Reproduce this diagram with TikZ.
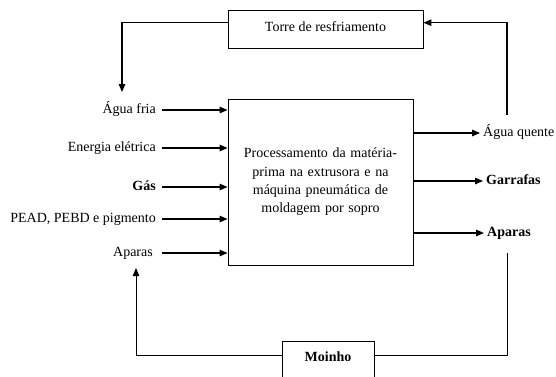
\documentclass[tikz,border=0pt]{standalone}
\usepackage{fontspec}
\setmainfont{Liberation Serif}
\usetikzlibrary{arrows.meta}

\tikzset{
  box/.style={draw, line width=0.9pt, inner sep=0pt},
  flow/.style={-{Triangle[length=8pt,width=6.5pt]}, line width=1.2pt},
  link/.style={line width=0.9pt},
  lbl/.style={inner sep=3pt, text height=10pt, text depth=3pt, font=\fontsize{14}{17}\selectfont}
}

\begin{document}
\begin{tikzpicture}[x=1pt,y=-1pt]
    \clip (0,0) rectangle (556,376);
    % blocos
    \node[box, minimum width=195pt, minimum height=38pt, text height=8pt, text depth=4pt, font=\fontsize{14}{17}\selectfont] (torre) at (325.5,29) {Torre de resfriamento};
    \node[box, minimum width=185pt, minimum height=166pt, text width=175pt, align=center, font=\fontsize{14}{18.3}\selectfont] (proc) at (320.5,182) {Processamento da matéria-\\prima na extrusora e na\\máquina pneumática de\\moldagem por sopro};
    \node[box, minimum width=92pt, minimum height=40pt, text height=5pt, text depth=5pt, font=\fontsize{14}{17}\selectfont\bfseries] (moinho) at (328,361) {Moinho};
    % entradas
    \node[lbl, anchor=east] (fria) at (159,110) {Água fria};
    \node[lbl, anchor=east] (energia) at (159,148) {Energia elétrica};
    \node[lbl, anchor=east, font=\fontsize{14}{17}\selectfont\bfseries] (gas) at (159,187) {Gás};
    \node[lbl, anchor=east] (pead) at (159,219) {PEAD, PEBD e pigmento};
    \node[lbl, anchor=east] (aparasin) at (156,253) {Aparas};
    \draw[flow] ([xshift=3pt]fria.east) -- (fria.east -| proc.west);
    \draw[flow] ([xshift=3pt]energia.east) -- (energia.east -| proc.west);
    \draw[flow] ([xshift=3pt]gas.east) -- (gas.east -| proc.west);
    \draw[flow] ([xshift=3pt]pead.east) -- (pead.east -| proc.west);
    \draw[flow] ([xshift=6pt]aparasin.east) -- (aparasin.east -| proc.west);
    % saidas
    \node[lbl, anchor=west] (quente) at (480,133) {Água quente};
    \node[lbl, anchor=west, font=\fontsize{14}{17}\selectfont\bfseries] (garrafas) at (483,181) {Garrafas};
    \node[lbl, anchor=west, font=\fontsize{14}{17}\selectfont\bfseries] (aparasout) at (484,233) {Aparas};
    \draw[flow] (proc.east |- quente.west) -- (quente.west);
    \draw[flow] (proc.east |- garrafas.west) -- (garrafas.west);
    \draw[flow] (proc.east |- aparasout.west) -- (aparasout.west);
    % circuitos de retorno
    \coordinate (friatop) at (122,92);
    \coordinate (quenteup) at (507,115);
    \coordinate (aparasdown) at (507,253);
    \coordinate (aparasup) at (136,268);
    \draw[flow] ([yshift=6.3pt]torre.west) -| (friatop);
    \draw[flow] (quenteup) |- ([yshift=6.3pt]torre.east);
    \draw[link] (aparasdown) |- ([yshift=6pt]moinho.east);
    \draw[flow, line width=0.9pt] ([yshift=6pt]moinho.west) -| (aparasup);
\end{tikzpicture}
\end{document}
